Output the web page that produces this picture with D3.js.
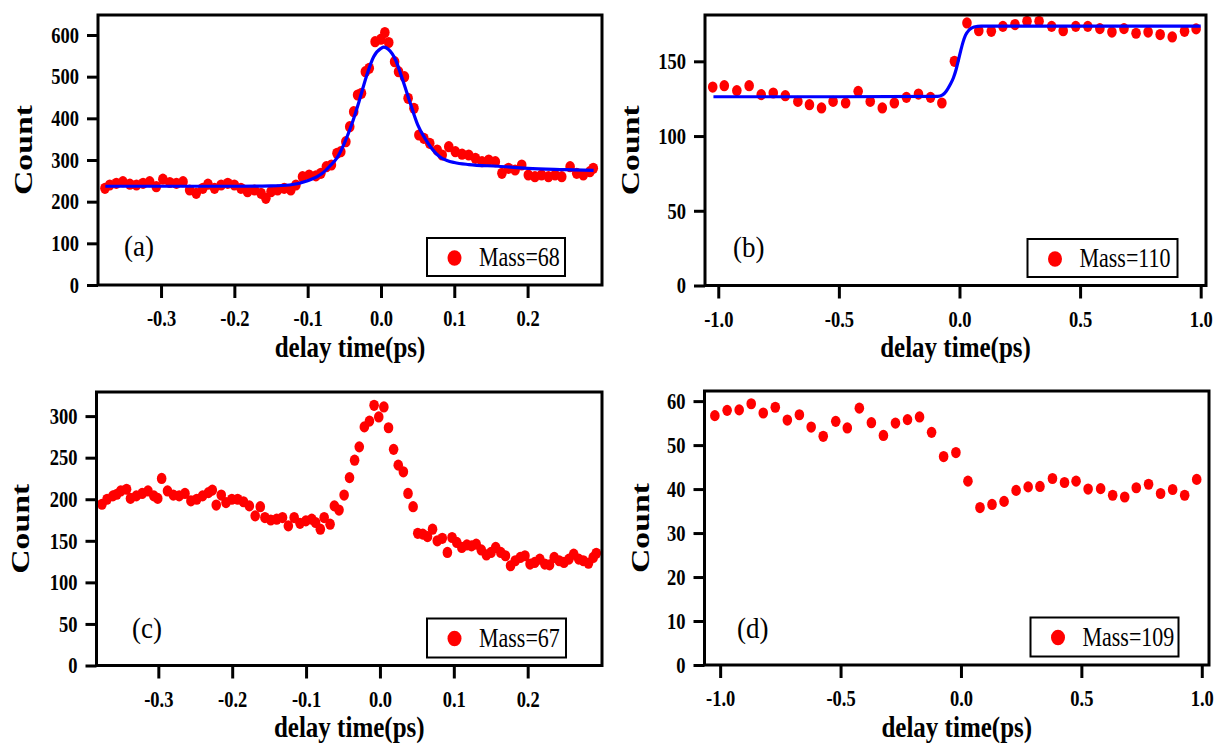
<!DOCTYPE html>
<html>
<head>
<meta charset="utf-8">
<script src="https://cdn.jsdelivr.net/npm/d3@7"></script>
<style>
  body { margin: 0; background: #fff; }
  svg { display: block; }
</style>
</head>
<body>
<svg id="fig" width="1215" height="744"></svg>
<script>

// ---- panel (a) Mass=68 ----
var a_delay = [-0.3765,-0.370,-0.361,-0.352,-0.3425,-0.3335,-0.3245,-0.3155,-0.3065,-0.2975,-0.288,-0.279,-0.270,-0.261,-0.252,-0.243,-0.236,-0.227,-0.218,-0.209,-0.200,-0.191,-0.182,-0.1726,-0.1636,-0.157,-0.150,-0.141,-0.132,-0.123,-0.116,-0.107,-0.098,-0.0887,-0.082,
  -0.0745,-0.0676,-0.060,-0.0548,-0.0479,-0.0426,-0.0372,-0.0319,-0.0266,-0.0213,-0.016,-0.008,0.0,0.0053,0.0106,0.0186,0.024,0.032,0.037,0.045,0.0517,0.0585,0.0665,
  0.0767,0.0835,0.0925,0.1015,0.1106,0.1197,0.1288,0.1378,0.147,0.156,0.165,0.174,0.183,0.192,0.201,0.210,0.219,0.2285,0.2375,0.2466,0.258,0.267,0.276,0.285,0.2896];
var a_count = [232,240,244,248,242,240,244,248,236,254,246,244,248,228,220,232,242,232,240,244,240,232,224,228,220,208,224,228,232,228,240,260,264,262,268,
  284,288,316,320,344,380,416,456,460,512,520,584,590,606,582,536,512,500,448,424,360,352,340,
  324,312,332,320,314,312,304,296,300,296,268,280,276,288,264,260,264,260,264,260,284,268,264,272,280];
var a_fit_delay = [-0.376,-0.3,-0.2,-0.15,-0.125,-0.1,-0.08,-0.07,-0.06,-0.05,-0.04,-0.03,-0.02,-0.01,0.0,0.004,0.01,0.02,0.03,0.04,0.05,0.06,0.07,0.08,0.09,0.1,0.12,0.16,0.2,0.25,0.29];
var a_fit_count = [237,237,237,238,240,250,268,285,305,340,385,440,500,548,568,571,566,540,490,436,385,352,326,308,299,294,289,285,280,277,275];

// ---- panel (b) Mass=110 ----
var b_delay = [-1.023,-0.975,-0.923,-0.872,-0.822,-0.772,-0.722,-0.670,-0.622,-0.572,-0.524,-0.472,-0.420,-0.370,-0.320,-0.270,-0.220,-0.170,-0.120,-0.073,
  -0.021,0.031,0.080,0.132,0.180,0.230,0.280,0.330,0.382,0.430,0.482,0.532,0.582,0.632,0.682,0.732,0.782,0.832,0.882,0.933,0.981];
var b_count = [132.8,133.7,130.4,133.7,127.7,128.8,127.0,123.2,121.0,118.8,123.2,122.1,129.9,123.2,118.8,122.1,125.9,128.1,125.9,122.1,
  150.0,175.7,170.5,170.1,173.4,174.6,176.8,176.8,173.4,170.5,173.4,173.4,171.9,169.6,171.9,168.8,169.6,167.9,166.3,170.1,171.7];
var b_fit_delay = [-1.02,-0.5,-0.09,-0.07,-0.055,-0.04,-0.025,-0.014,-0.004,0.005,0.015,0.025,0.04,0.06,0.09,0.5,1.0];
var b_fit_count = [126.3,126.3,126.5,127.5,130,134,139,144.5,151,157,163,167.5,171,173,173.6,173.6,173.6];

// ---- panel (c) Mass=67 ----
var c_delay = [-0.3763,-0.3694,-0.3615,-0.3562,-0.3509,-0.3430,-0.3377,-0.3298,-0.3219,-0.3140,-0.3061,-0.3008,-0.2955,-0.2876,-0.2797,-0.2718,-0.2639,-0.2559,-0.2480,-0.2401,
  -0.2322,-0.2269,-0.2216,-0.2148,-0.2084,-0.2005,-0.1926,-0.1847,-0.1768,-0.1689,-0.1620,-0.1557,-0.1478,-0.1398,-0.1319,-0.1240,-0.1161,-0.1082,-0.1003,-0.0923,
  -0.0871,-0.0807,-0.0755,-0.0675,-0.0617,-0.0554,-0.0485,-0.0412,-0.0343,-0.0280,-0.0211,-0.0142,-0.0079,-0.0016,0.0053,0.0116,0.0185,0.0248,0.0317,0.0380,
  0.0449,0.0512,0.0580,0.0644,0.0712,0.0776,0.0844,0.0913,0.0976,0.1040,0.1108,0.1177,0.1240,0.1303,0.1372,0.1441,0.1504,0.1567,0.1636,0.1699,
  0.1768,0.1831,0.1900,0.1963,0.2032,0.2095,0.2164,0.2232,0.2296,0.2359,0.2427,0.2491,0.2559,0.2623,0.2691,0.2755,0.2823,0.2887,0.2929];
var c_count = [194,200,204,206,210,212,201,204,207,210,204,201,225,210,205,204,207,198,200,204,
  208,211,193,205,196,200,200,197,192,180,191,178,175,176,178,168,178,171,174,176,
  172,164,178,170,192,187,205,226,247,263,287,294,313,299,311,286,260,241,233,207,
  191,159,158,155,164,150,153,136,154,148,142,145,144,146,139,133,136,142,136,132,
  120,126,130,132,122,124,128,122,121,130,126,124,128,134,128,126,123,130,135];

// ---- panel (d) Mass=109 ----
var d_delay = [-1.022,-0.971,-0.921,-0.871,-0.821,-0.771,-0.721,-0.671,-0.622,-0.572,-0.520,-0.472,-0.422,-0.372,-0.322,-0.272,-0.222,-0.172,-0.122,-0.072,
  -0.021,0.029,0.079,0.129,0.179,0.229,0.279,0.328,0.380,0.430,0.478,0.528,0.580,0.630,0.680,0.728,0.779,0.829,0.879,0.929,0.979];
var d_count = [56.7,57.9,58.0,59.4,57.3,58.6,55.7,56.9,54.1,52.0,55.4,53.9,58.4,55.1,52.2,55.0,55.8,56.4,52.9,47.4,
  48.3,41.8,35.8,36.5,37.2,39.7,40.5,40.6,42.4,41.5,41.8,40.0,40.1,38.6,38.2,40.3,41.1,39.0,39.9,38.6,42.2];

// ---- ticks ----
var short_x_ticks = [-0.3, -0.2, -0.1, 0.0, 0.1, 0.2];
var long_x_ticks = [-1.0, -0.5, 0.0, 0.5, 1.0];
var a_y_ticks = [0, 100, 200, 300, 400, 500, 600];
var b_y_ticks = [0, 50, 100, 150];
var c_y_ticks = [0, 50, 100, 150, 200, 250, 300];
var d_y_ticks = [0, 10, 20, 30, 40, 50, 60];

var serif = '"Liberation Serif", "Times New Roman", serif';
var stretch = 1.2;

var panels = [
  {delay: a_delay, count: a_count, fit_delay: a_fit_delay, fit_count: a_fit_count,
   x_ticks: short_x_ticks, y_ticks: a_y_ticks, x_dom: [-0.386, 0.3015], y_dom: [0, 648],
   frame: {l: 98, r: 602, t: 15, b: 285}, count_x: 23, tag: '(a)', tag_pos: [124, 256],
   mass: 'Mass=68', legend: {x: 427, y: 238, w: 138, h: 38}},
  {delay: b_delay, count: b_count, fit_delay: b_fit_delay, fit_count: b_fit_count,
   x_ticks: long_x_ticks, y_ticks: b_y_ticks, x_dom: [-1.055, 1.022], y_dom: [0, 181],
   frame: {l: 705, r: 1206, t: 15, b: 285.5}, count_x: 630, tag: '(b)', tag_pos: [733, 257],
   mass: 'Mass=110', legend: {x: 1027.5, y: 239, w: 150, h: 38}},
  {delay: c_delay, count: c_count,
   x_ticks: short_x_ticks, y_ticks: c_y_ticks, x_dom: [-0.3837, 0.3006], y_dom: [0, 329],
   frame: {l: 96.5, r: 602, t: 392, b: 665.5}, count_x: 20, tag: '(c)', tag_pos: [132, 638],
   mass: 'Mass=67', legend: {x: 427, y: 618.5, w: 139, h: 39}},
  {delay: d_delay, count: d_count,
   x_ticks: long_x_ticks, y_ticks: d_y_ticks, x_dom: [-1.065, 1.03], y_dom: [0, 62.3],
   frame: {l: 704.5, r: 1209, t: 391, b: 665}, count_x: 640, tag: '(d)', tag_pos: [737, 638],
   mass: 'Mass=109', legend: {x: 1030.5, y: 617.5, w: 148, h: 39}}
];

var svg = d3.select('#fig');

function draw_panel(p) {
  var f = p.frame;
  var x = d3.scaleLinear().domain(p.x_dom).range([f.l, f.r]);
  var y = d3.scaleLinear().domain(p.y_dom).range([f.b, f.t]);
  var g = svg.append('g');

  // data points
  g.selectAll('.pt')
    .data(d3.range(p.delay.length))
    .enter()
    .append('ellipse')
    .attr('class', 'pt')
    .attr('cx', function(i) { return x(p.delay[i]); })
    .attr('cy', function(i) { return y(p.count[i]); })
    .attr('rx', 4.8)
    .attr('ry', 5.6)
    .style('fill', '#ff0000');

  // fit curve
  if (p.fit_delay) {
    var line = d3.line()
      .x(function(i) { return x(p.fit_delay[i]); })
      .y(function(i) { return y(p.fit_count[i]); })
      .curve(d3.curveMonotoneX);
    g.append('path')
      .attr('d', line(d3.range(p.fit_delay.length)))
      .style('fill', 'none')
      .style('stroke', '#0000ff')
      .style('stroke-width', 3.2);
  }

  // axes
  var gx = g.append('g')
    .attr('transform', 'translate(0,' + f.b + ')')
    .call(d3.axisBottom(x).tickValues(p.x_ticks).tickSize(13).tickSizeOuter(0)
      .tickFormat(function(d) { return d.toFixed(1); }));
  var gy = g.append('g')
    .attr('transform', 'translate(' + f.l + ',0)')
    .call(d3.axisLeft(y).tickValues(p.y_ticks).tickSize(11).tickSizeOuter(0)
      .tickFormat(function(d) { return d; }));

  [gx, gy].forEach(function(ax) {
    ax.select('.domain').remove();
    ax.selectAll('.tick line').style('stroke', '#000').style('stroke-width', 3);
    ax.selectAll('.tick text')
      .style('font-family', serif)
      .style('font-weight', 'bold')
      .style('font-size', '18.5px')
      .style('fill', '#000');
  });
  gx.selectAll('.tick text')
    .attr('y', 0).attr('dy', null)
    .attr('transform', 'translate(0,41) scale(1,' + stretch + ')');
  gy.selectAll('.tick text')
    .attr('x', -19).attr('dy', null)
    .attr('transform', 'translate(0,' + (0.33 * 18.5 * stretch) + ') scale(1,' + stretch + ')');

  // frame
  g.append('rect')
    .attr('x', f.l).attr('y', f.t)
    .attr('width', f.r - f.l).attr('height', f.b - f.t)
    .style('fill', 'none').style('stroke', '#000').style('stroke-width', 3);

  // axis titles
  g.append('text')
    .attr('transform', 'translate(' + ((f.l + f.r) / 2) + ',' + (f.b + 71.5) + ') scale(1,1.15)')
    .attr('text-anchor', 'middle')
    .style('font-family', serif).style('font-weight', 'bold').style('font-size', '25px')
    .text('delay time(ps)');
  g.append('text')
    .attr('transform', 'translate(' + (p.count_x + 9) + ',' + ((f.t + f.b) / 2) + ') rotate(-90) scale(1.3,1)')
    .attr('text-anchor', 'middle')
    .style('font-family', serif).style('font-weight', 'bold').style('font-size', '26px')
    .text('Count');

  // panel tag
  g.append('text')
    .attr('transform', 'translate(' + p.tag_pos[0] + ',' + p.tag_pos[1] + ') scale(1,1.1)')
    .style('font-family', serif).style('font-size', '27px')
    .text(p.tag);

  // legend
  var L = p.legend;
  g.append('rect')
    .attr('x', L.x).attr('y', L.y).attr('width', L.w).attr('height', L.h)
    .style('fill', '#fff').style('stroke', '#000').style('stroke-width', 2);
  g.append('ellipse')
    .attr('cx', L.x + 27.5).attr('cy', L.y + 20)
    .attr('rx', 7).attr('ry', 7.8)
    .style('fill', '#ff0000');
  g.append('text')
    .attr('transform', 'translate(' + (L.x + 52) + ',' + (L.y + 28) + ') scale(1,' + stretch + ')')
    .style('font-family', serif).style('font-size', '22px')
    .text(p.mass);
}

panels.forEach(draw_panel);
</script>
</body>
</html>
